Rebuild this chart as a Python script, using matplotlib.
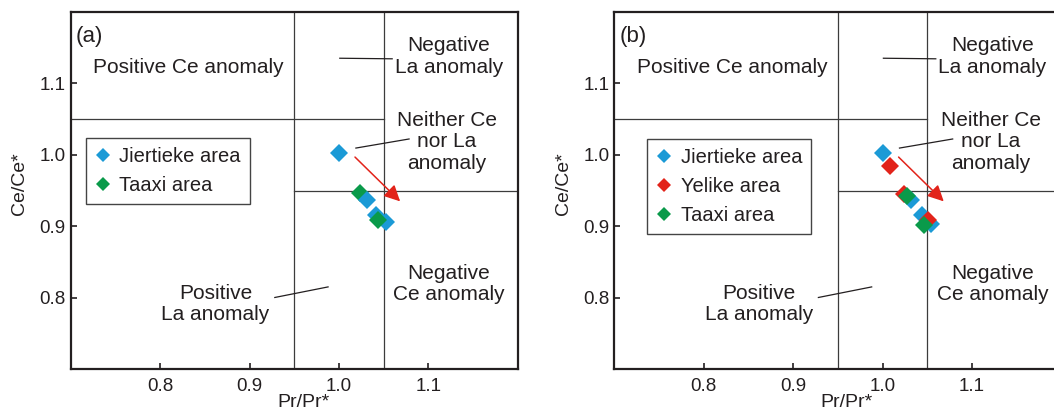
import matplotlib
matplotlib.use('Agg')
import matplotlib.pyplot as plt
from matplotlib.lines import Line2D

plt.rcParams['font.family'] = ['Liberation Sans', 'DejaVu Sans']

# data
ticks = [0.8, 0.9, 1.0, 1.1]
tick_labels = ['0.8', '0.9', '1.0', '1.1']

jiertieke_a_x = [1.000, 1.031, 1.042, 1.053]
jiertieke_a_y = [1.002, 0.937, 0.916, 0.906]
taaxi_a_x = [1.024, 1.044]
taaxi_a_y = [0.947, 0.909]

jiertieke_b_x = [1.000, 1.032, 1.044, 1.054]
jiertieke_b_y = [1.002, 0.937, 0.916, 0.903]
yelike_b_x = [1.008, 1.024, 1.051]
yelike_b_y = [0.984, 0.945, 0.909]
taaxi_b_x = [1.027, 1.046]
taaxi_b_y = [0.942, 0.902]

# field boundaries
pr_lo, pr_hi = 0.95, 1.05
ce_lo, ce_hi = 0.95, 1.05

BLUE = '#1b9ad6'
RED = '#e2231a'
GREEN = '#0a9a4a'
INK = '#231f20'
GRID = '#3c3c3c'

fig = plt.figure(figsize=(10.54, 4.12), dpi=100)
ax_a = fig.add_axes([70.7 / 1054, 42.7 / 412, 447 / 1054, 357.3 / 412])
ax_b = fig.add_axes([614.3 / 1054, 42.7 / 412, 447 / 1054, 357.3 / 412])


def draw_frame(ax, tag):
    """Axes, field lines and labels shared by both panels."""
    ax.set_xlim(0.7, 1.2)
    ax.set_ylim(0.7, 1.2)
    ax.set_xticks(ticks, tick_labels)
    ax.set_yticks(ticks, tick_labels)
    ax.tick_params(axis='both', direction='in', length=4.5, width=1.2,
                   color=INK, labelcolor=INK, labelsize=13.5)
    ax.tick_params(axis='x', pad=6)
    ax.tick_params(axis='y', pad=3.5)
    for sp in ax.spines.values():
        sp.set_linewidth(1.6)
        sp.set_color(INK)

    line_kw = dict(color=GRID, lw=0.9, zorder=1)
    ax.axvline(pr_lo, **line_kw)
    ax.axvline(pr_hi, **line_kw)
    ax.plot([0.7, pr_hi], [ce_hi, ce_hi], **line_kw)
    ax.plot([pr_lo, 1.2], [ce_lo, ce_lo], **line_kw)

    ax.set_xlabel('Pr/Pr*', fontsize=14, color=INK)
    ax.xaxis.set_label_coords(0.52, -0.068)
    ax.set_ylabel('Ce/Ce*', fontsize=14, color=INK)
    ax.yaxis.set_label_coords(-0.095, 0.52)

    ax.text(0.706, 1.181, tag, fontsize=16, color=INK, ha='left', va='top')

    # va='baseline' on multi-line text anchors the last line
    txt = dict(fontsize=15, color=INK, ha='center', va='baseline',
               linespacing=1.17)
    ax.text(0.832, 1.1146, 'Positive Ce anomaly', **txt)
    ax.text(1.123, 1.1153, 'Negative\nLa anomaly', **txt)
    ax.text(1.121, 0.9805, 'Neither Ce\nnor La\nanomaly', **txt)
    ax.text(1.123, 0.7967, 'Negative\nCe anomaly', **txt)
    ax.text(0.862, 0.7688, 'Positive\nLa anomaly', **txt)

    lead = dict(color=INK, lw=0.9, zorder=2)
    ax.plot([1.001, 1.0596], [1.1353, 1.1345], **lead)
    ax.plot([1.019, 1.0785], [1.0096, 1.0223], **lead)
    ax.plot([0.9283, 0.9879], [0.8005, 0.8153], **lead)

    ax.annotate('', xy=(1.0685, 0.935), xytext=(1.018, 0.997),
                arrowprops=dict(arrowstyle='-|>', color=RED, lw=1.1,
                                mutation_scale=24, shrinkA=0, shrinkB=0),
                zorder=3)


def add_legend(ax, entries, anchor):
    handles = [Line2D([], [], ls='none', marker='D', ms=7.5, color=c,
                      markeredgewidth=0) for c, _ in entries]
    labels = [lab for _, lab in entries]
    leg = ax.legend(handles, labels, loc='upper left', bbox_to_anchor=anchor,
                    bbox_transform=ax.transData, borderaxespad=0,
                    fontsize=14.5, frameon=True, fancybox=False, framealpha=1,
                    edgecolor='#444444', borderpad=0.45, labelspacing=0.5,
                    handlelength=0.8, handletextpad=0.4, labelcolor=INK)
    leg.get_frame().set_linewidth(1.0)


mk = dict(ls='none', marker='D', ms=9.4, markeredgewidth=0, zorder=4)

# panel (a)
draw_frame(ax_a, '(a)')
ax_a.plot(taaxi_a_x[:1], taaxi_a_y[:1], color=GREEN, **mk)
ax_a.plot(jiertieke_a_x, jiertieke_a_y, color=BLUE, **mk)
ax_a.plot(taaxi_a_x[1:], taaxi_a_y[1:], color=GREEN, **mk)
add_legend(ax_a, [(BLUE, 'Jiertieke area'), (GREEN, 'Taaxi area')],
           (0.7171, 1.0237))

# panel (b)
draw_frame(ax_b, '(b)')
ax_b.plot(jiertieke_b_x, jiertieke_b_y, color=BLUE, **mk)
ax_b.plot(yelike_b_x, yelike_b_y, color=RED, **mk)
ax_b.plot(taaxi_b_x, taaxi_b_y, color=GREEN, **mk)
add_legend(ax_b, [(BLUE, 'Jiertieke area'), (RED, 'Yelike area'),
                  (GREEN, 'Taaxi area')], (0.7369, 1.0223))

fig.savefig('out.png', dpi=100)
